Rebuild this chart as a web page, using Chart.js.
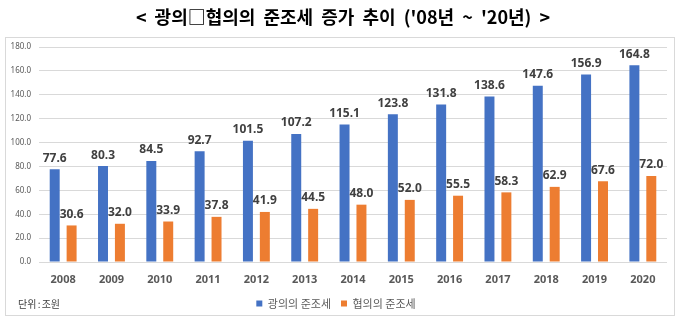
<!DOCTYPE html>
<html>
<head>
<meta charset="utf-8">
<script src="https://cdn.jsdelivr.net/npm/chart.js@4.4.1/dist/chart.umd.min.js"></script>
<style>
  html, body { margin: 0; padding: 0; background: #ffffff; }
  #wrap { width: 680px; height: 323px; position: relative; }
</style>
</head>
<body>
<div id="wrap"><canvas id="c" width="680" height="323"></canvas></div>
<script>
const categories = ['2008','2009','2010','2011','2012','2013','2014','2015','2016','2017','2018','2019','2020'];
const broadValues = [77.6, 80.3, 84.5, 92.7, 101.5, 107.2, 115.1, 123.8, 131.8, 138.6, 147.6, 156.9, 164.8];
const narrowValues = [30.6, 32.0, 33.9, 37.8, 41.9, 44.5, 48.0, 52.0, 55.5, 58.3, 62.9, 67.6, 72.0];
const seriesNames = ['광의의 준조세', '협의의 준조세'];
const yTicks = [0, 20, 40, 60, 80, 100, 120, 140, 160, 180];
const titleText = "< 광의□협의의 준조세 증가 추이 ('08년 ~ '20년) >";
const unitText = '단위 : 조원';

const decorPlugin = {
  id: 'decor',
  beforeDraw(chart) {
    const ctx = chart.ctx;
    ctx.save();
    ctx.fillStyle = '#ffffff';
    ctx.fillRect(0, 0, chart.width, chart.height);
    ctx.strokeStyle = '#d9d9d9';
    ctx.lineWidth = 1;
    ctx.strokeRect(5.5, 37.5, 669, 278);
    ctx.fillStyle = '#000000';
    ctx.font = 'bold 18px "Noto Sans CJK KR"';
    if ('wordSpacing' in ctx) ctx.wordSpacing = '4px';
    ctx.textAlign = 'center';
    ctx.textBaseline = 'middle';
    ctx.fillText(titleText, 343, 17);
    if ('wordSpacing' in ctx) ctx.wordSpacing = '-1px';
    ctx.fillStyle = '#404040';
    ctx.font = '10px "Noto Sans CJK KR"';
    ctx.textAlign = 'left';
    ctx.fillText(unitText, 18, 304);
    if ('wordSpacing' in ctx) ctx.wordSpacing = '0px';
    ctx.restore();
  },
  afterDatasetsDraw(chart) {
    const ctx = chart.ctx;
    ctx.save();
    ctx.fillStyle = '#404040';
    ctx.font = 'bold 12px "Noto Sans"';
    ctx.textAlign = 'center';
    ctx.textBaseline = 'middle';
    chart.data.datasets.forEach((ds, di) => {
      const meta = chart.getDatasetMeta(di);
      meta.data.forEach((bar, i) => {
        ctx.fillText(ds.data[i].toFixed(1), bar.x, bar.y - 11);
      });
    });
    ctx.restore();
  }
};

new Chart(document.getElementById('c'), {
  type: 'bar',
  data: {
    labels: categories,
    datasets: [
      { label: seriesNames[0], data: broadValues, backgroundColor: '#4472C4', categoryPercentage: 0.70, barPercentage: 0.59 },
      { label: seriesNames[1], data: narrowValues, backgroundColor: '#ED7D31', categoryPercentage: 0.70, barPercentage: 0.59 }
    ]
  },
  options: {
    responsive: false,
    animation: false,
    devicePixelRatio: 1,
    layout: { padding: { top: 47, left: 5, right: 13, bottom: 4 } },
    plugins: {
      title: { display: false },
      tooltip: { enabled: false },
      legend: {
        display: true,
        position: 'bottom',
        labels: {
          boxWidth: 6, boxHeight: 6, padding: 10,
          color: '#595959',
          font: { size: 11, family: '"Noto Sans CJK KR"' }
        }
      }
    },
    scales: {
      x: {
        grid: { display: false, drawTicks: false },
        border: { display: false },
        ticks: { color: '#595959', padding: 11, font: { size: 11, weight: 'bold', family: '"Noto Sans"' } },
        afterFit(scale) { scale.height = 26; }
      },
      y: {
        min: 0, max: 180,
        afterBuildTicks(scale) { scale.ticks = yTicks.map(v => ({ value: v })); },
        grid: { color: '#d9d9d9', drawTicks: false },
        border: { display: false },
        ticks: {
          color: '#595959', padding: 8,
          font: { size: 8, family: '"Noto Sans"' },
          callback: (v) => Number(v).toFixed(1)
        },
        afterFit(scale) { scale.width = 34; }
      }
    }
  },
  plugins: [decorPlugin]
});
</script>
</body>
</html>
